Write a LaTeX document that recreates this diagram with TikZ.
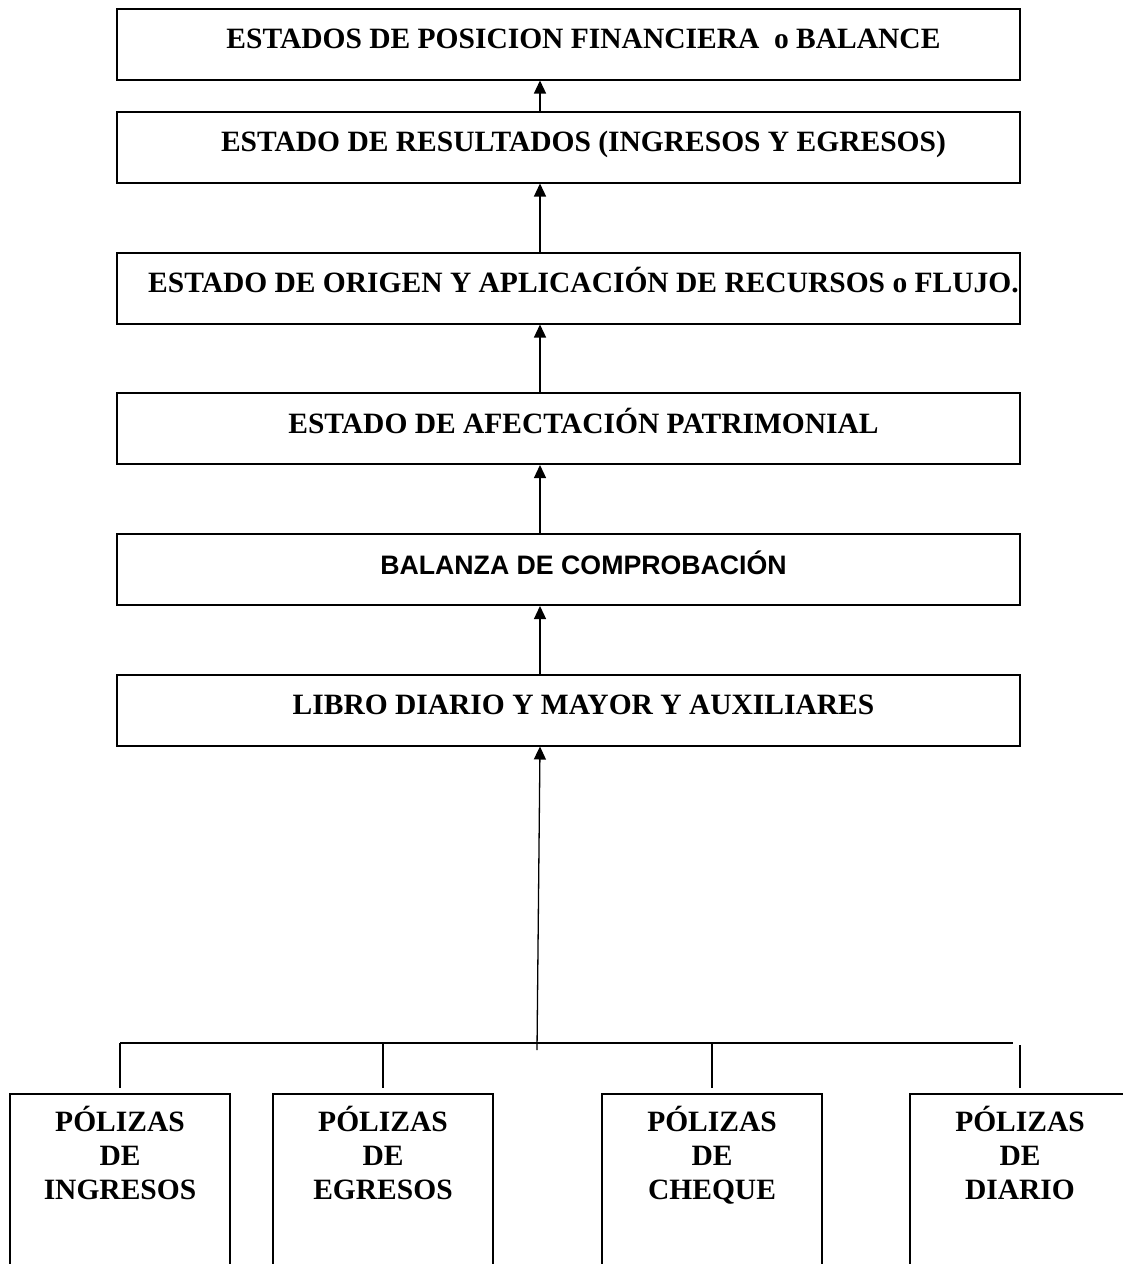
\documentclass[tikz,border=0pt]{standalone}
\usepackage{fontspec}
\setmainfont{Liberation Serif}
\newfontfamily\sansbold{Liberation Sans}[BoldFont={Liberation Sans Bold}]
\usetikzlibrary{arrows.meta}

% labels in the statement boxes sit a little right of the box centre
\newcommand{\rightset}[1]{\hspace*{30pt}#1}

\begin{document}
\begin{tikzpicture}[x=1pt,y=-1pt,
  stage/.style={draw, line width=2pt, minimum width=903pt, minimum height=71pt,
    inner sep=0pt, text height=20pt, text depth=11pt,
    font=\fontsize{29.5}{34}\selectfont\bfseries},
  voucher/.style={draw, line width=1.6pt, minimum width=220pt, minimum height=240pt,
    anchor=north, inner sep=0pt},
  vtext/.style={anchor=north, align=center, inner sep=0pt,
    font=\fontsize{29.5}{34}\selectfont\bfseries},
  up/.style={-{Triangle[length=13pt,width=12pt]}, line width=1.3pt},
  link/.style={line width=1.3pt},
  bar/.style={line width=2pt}]
\clip (0,0) rectangle (1123,1264);

% statements, from the top down
\node[stage] (b1) at (568.5,44) {\rightset{ESTADOS DE POSICION FINANCIERA~~o BALANCE}};
\node[stage] (b2) at (568.5,147) {\rightset{ESTADO DE RESULTADOS (INGRESOS Y EGRESOS)}};
\node[stage] (b3) at (568.5,288) {\rightset{ESTADO DE ORIGEN Y APLICACIÓN DE RECURSOS o FLUJO.}};
\node[stage] (b4) at (568.5,428.5) {\rightset{ESTADO DE AFECTACIÓN PATRIMONIAL}};
\node[stage, font=\fontsize{26.7}{31}\selectfont\sansbold\bfseries] (b5) at (568.5,569.5) {\rightset{BALANZA DE COMPROBACIÓN}};
\node[stage] (b6) at (568.5,710) {\rightset{LIBRO DIARIO Y MAYOR Y AUXILIARES}};

% vouchers along the bottom
\node[voucher] (p1) at (120,1093) {};
\node[voucher] (p2) at (383,1093) {};
\node[voucher] (p3) at (712,1093) {};
\node[voucher] (p4) at (1020,1093) {};
\node[vtext] (t1) at (120,1106) {PÓLIZAS\\DE\\INGRESOS};
\node[vtext] (t2) at (383,1106) {PÓLIZAS\\DE\\EGRESOS};
\node[vtext] (t3) at (712,1106) {PÓLIZAS\\DE\\CHEQUE};
\node[vtext] (t4) at (1020,1106) {PÓLIZAS\\DE\\DIARIO};

% connectors
\coordinate (ax) at (540,0);
\coordinate (barL) at (120,1043);
\coordinate (barR) at (1013,1043);
\coordinate (hub) at (537,1050);

\draw[up] (b2.north -| ax) -- (b1.south -| ax);
\draw[up] (b3.north -| ax) -- (b2.south -| ax);
\draw[up] (b4.north -| ax) -- (b3.south -| ax);
\draw[up] (b5.north -| ax) -- (b4.south -| ax);
\draw[up] (b6.north -| ax) -- (b5.south -| ax);
\draw[up] (hub) -- (b6.south -| ax);

\draw[bar] (barL) -- (barR);
\draw[link] (p1.north |- barL) -- ([yshift=5pt]p1.north);
\draw[link] (p2.north |- barL) -- ([yshift=5pt]p2.north);
\draw[link] (p3.north |- barL) -- ([yshift=5pt]p3.north);
\draw[link] ([yshift=-2pt]p4.north |- barL) -- ([yshift=5pt]p4.north);
\end{tikzpicture}
\end{document}
